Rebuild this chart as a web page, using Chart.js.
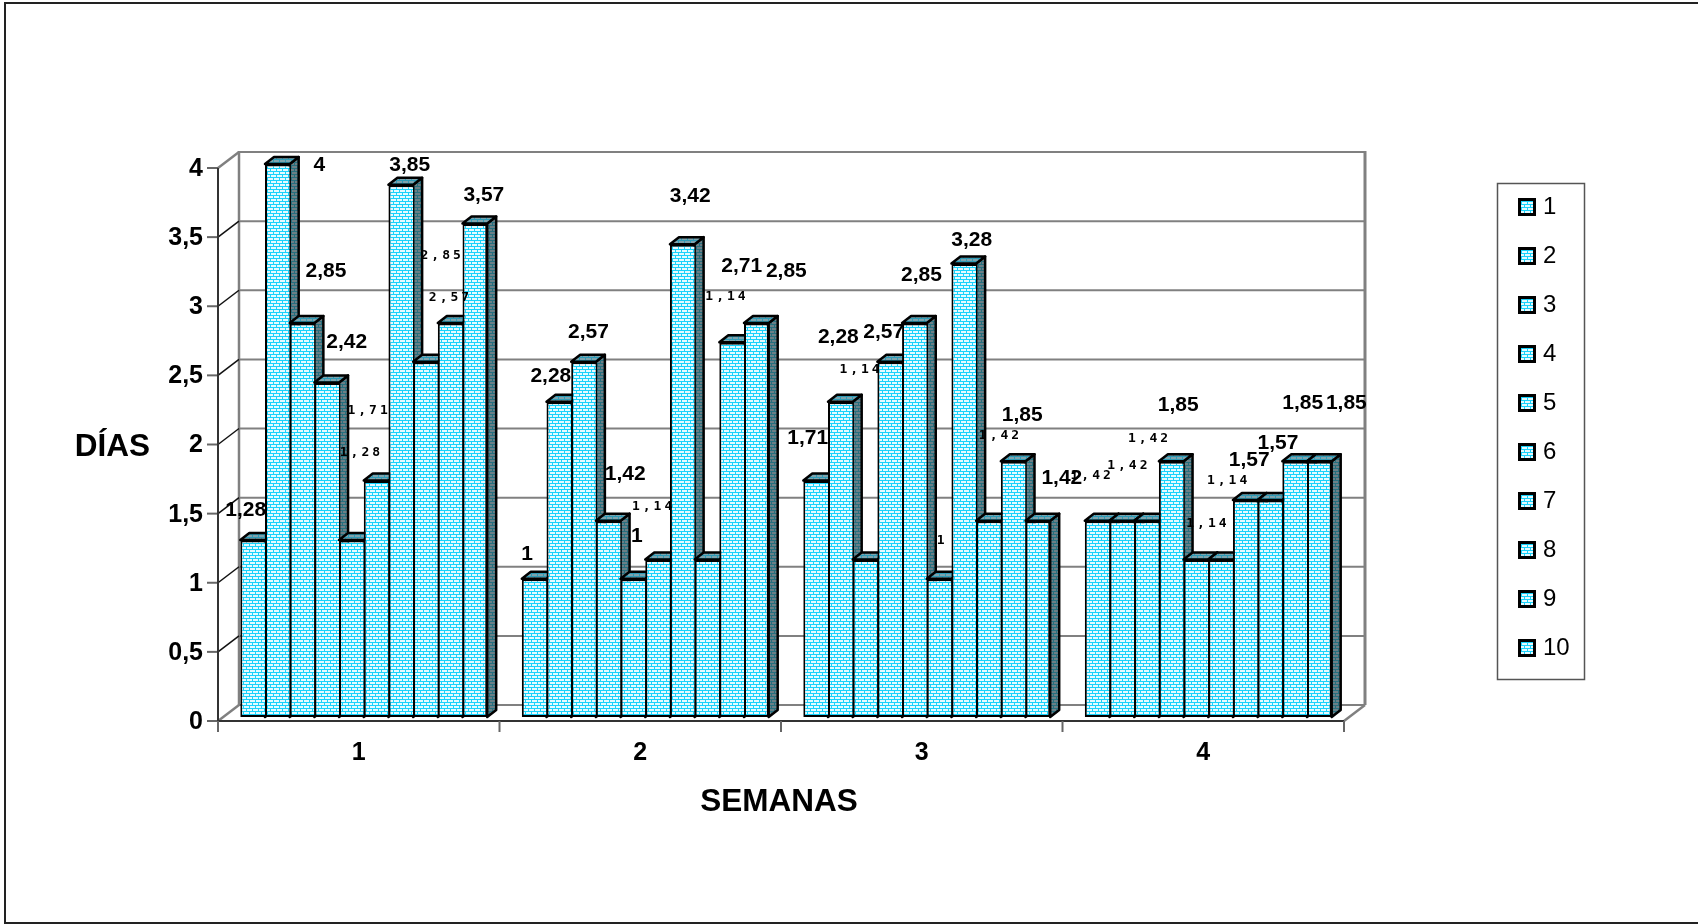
<!DOCTYPE html>
<html>
<head>
<meta charset="utf-8">
<title>Días por semana</title>
<style>
	html, body { margin: 0; padding: 0; background: #fff; }
	canvas { display: block; }
</style>
<script src="https://cdn.jsdelivr.net/npm/chart.js@4/dist/chart.umd.min.js"></script>
</head>
<body>
<canvas id="chart" width="1698" height="924"></canvas>
<script>

var categories = ["1", "2", "3", "4"];
var seriesNames = ["1", "2", "3", "4", "5", "6", "7", "8", "9", "10"];
var yTicks = [0, 0.5, 1, 1.5, 2, 2.5, 3, 3.5, 4];

var serie1 = [1.28, 1, 1.71, 1.42];
var serie2 = [4, 2.28, 2.28, 1.42];
var serie3 = [2.85, 2.57, 1.14, 1.42];
var serie4 = [2.42, 1.42, 2.57, 1.85];
var serie5 = [1.28, 1, 2.85, 1.14];
var serie6 = [1.71, 1.14, 1, 1.14];
var serie7 = [3.85, 3.42, 3.28, 1.57];
var serie8 = [2.57, 1.14, 1.42, 1.57];
var serie9 = [2.85, 2.71, 1.85, 1.85];
var serie10 = [3.57, 2.85, 1.42, 1.85];
var seriesValues = [serie1, serie2, serie3, serie4, serie5, serie6, serie7, serie8, serie9, serie10];

// where each value label sits, relative to the top of its bar: [dx, dy], by week then series
var labelNudges = [
	[[-7, -30], [42, 1], [24, -52], [20, -40], [10, -87], [-7, -70], [9, -20], [25, -64], [-8, -67], [9, -28]],
	[[-7, -25], [-8, -26], [5, -29], [17, -46], [4, -43], [-4, -53], [8, -48], [20, -263], [10, -76], [30, -52]],
	[[-8, -42], [-2, -65], [-4, -190], [-6, -29], [7, -48], [3, -38], [8, -23], [12, -85], [9, -46], [24, -42]],
	[[-5, -45], [7, -55], [3, -82], [7, -56], [12, -36], [8, -79], [4, -40], [8, -57], [8, -58], [27, -58]]
];
// these labels came out in the small typewriter font, the others in bold
var smallLabels = [
	[4, 5, 7, 8],
	[5, 7],
	[2, 5, 7],
	[0, 1, 2, 4, 5]
];

var DEPTH_X = 9;
var DEPTH_Y = 7;
var BACK_X = 16;
var BACK_Y = 12;
var AXIS_X = -5;
var AXIS_Y = 4;

function brick(line, ground) {
	var c = document.createElement("canvas");
	c.width = 6;
	c.height = 6;
	var g = c.getContext("2d");
	g.fillStyle = ground;
	g.fillRect(0, 0, 6, 6);
	g.fillStyle = line;
	g.fillRect(0, 0, 6, 1);
	g.fillRect(0, 3, 6, 1);
	g.fillRect(0, 0, 1, 3);
	g.fillRect(3, 3, 1, 3);
	return g.createPattern(c, "repeat");
}

var frontFill = brick("#19d2fb", "#e4faff");
var sideFill = brick("#26707f", "#6b7f86");
var topFill = brick("#2f9bb6", "#7ea3ad");

function legendSwatch() {
	var c = document.createElement("canvas");
	c.width = 18;
	c.height = 18;
	var g = c.getContext("2d");
	g.fillStyle = "#000";
	g.fillRect(0, 0, 18, 18);
	g.fillStyle = frontFill;
	g.fillRect(3, 3, 12, 12);
	return c;
}

function line(ctx, x1, y1, x2, y2) {
	ctx.beginPath();
	ctx.moveTo(x1, y1);
	ctx.lineTo(x2, y2);
	ctx.stroke();
}

function poly(ctx, points, fill) {
	ctx.beginPath();
	ctx.moveTo(points[0][0], points[0][1]);
	for (var i = 1; i < points.length; i++) {
		ctx.lineTo(points[i][0], points[i][1]);
	}
	ctx.closePath();
	ctx.fillStyle = fill;
	ctx.fill();
	ctx.stroke();
}

function formatValue(v) {
	return String(v).replace(".", ",");
}

function drawWalls(chart) {
	var ctx = chart.ctx;
	var x = chart.scales.x;
	var y = chart.scales.y;
	var backL = x.left + BACK_X;
	var backR = x.right + BACK_X;
	var axisL = x.left + AXIS_X;
	var axisR = x.right + AXIS_X;
	ctx.save();
	ctx.lineCap = "butt";
	// back wall grid
	ctx.strokeStyle = "#808080";
	ctx.lineWidth = 2;
	yTicks.forEach(function(v) {
		var py = y.getPixelForValue(v);
		line(ctx, backL, py - BACK_Y, backR, py - BACK_Y);
	});
	ctx.lineWidth = 3;
	var top = y.getPixelForValue(4) - BACK_Y;
	var bottom = y.getPixelForValue(0) - BACK_Y;
	line(ctx, backR, top - 1, backR, bottom);
	ctx.lineWidth = 2.5;
	line(ctx, backL, top - 1, backL, bottom);
	// floor edge and the corners of the side wall
	line(ctx, axisR, bottom + BACK_Y + AXIS_Y, backR, bottom);
	yTicks.forEach(function(v) {
		var py = y.getPixelForValue(v) + AXIS_Y;
		var outer = v === 0 || v === 4;
		ctx.strokeStyle = outer ? "#808080" : "#111";
		ctx.lineWidth = outer ? 2.5 : 1.5;
		line(ctx, axisL, py, backL, py - BACK_Y - AXIS_Y);
		ctx.strokeStyle = "#666";
		ctx.lineWidth = 2;
		line(ctx, axisL - 11, py, axisL, py);
	});
	// axis lines and week ticks
	ctx.strokeStyle = "#333";
	ctx.lineWidth = 2;
	line(ctx, axisL, y.getPixelForValue(4) + AXIS_Y, axisL, y.getPixelForValue(0) + AXIS_Y);
	line(ctx, axisL, y.getPixelForValue(0) + AXIS_Y, axisR, y.getPixelForValue(0) + AXIS_Y);
	ctx.strokeStyle = "#666";
	for (var i = 0; i <= categories.length; i++) {
		var px = axisL + i * (x.right - x.left) / categories.length;
		line(ctx, px, y.getPixelForValue(0) + AXIS_Y, px, y.getPixelForValue(0) + AXIS_Y + 11);
	}
	ctx.restore();
}

// top and side faces go down first, the library then paints the front on them
function drawFaces(chart, meta) {
	var ctx = chart.ctx;
	ctx.save();
	ctx.strokeStyle = "#000";
	ctx.lineWidth = 2.5;
	ctx.lineJoin = "round";
	meta.data.forEach(function(bar) {
		var p = bar.getProps(["x", "y", "base", "width"], true);
		var l = p.x - p.width / 2;
		var r = p.x + p.width / 2;
		poly(ctx, [[r, p.y], [r + DEPTH_X, p.y - DEPTH_Y], [r + DEPTH_X, p.base - DEPTH_Y], [r, p.base]], sideFill);
		poly(ctx, [[l, p.y], [l + DEPTH_X, p.y - DEPTH_Y], [r + DEPTH_X, p.y - DEPTH_Y], [r, p.y]], topFill);
	});
	ctx.restore();
}

var sheetPlugin = {
	id: "sheet",
	afterLayout: function(chart) {
		var legend = chart.legend;
		legend.left = 1498;
		legend.right = 1585;
		legend.top = 170;
		legend.bottom = 924;
	},
	beforeDraw: function(chart) {
		var ctx = chart.ctx;
		ctx.save();
		ctx.fillStyle = "#fff";
		ctx.fillRect(0, 0, chart.width, chart.height);
		// page frame, open on the right
		ctx.strokeStyle = "#222";
		ctx.lineWidth = 2;
		line(ctx, 5, 3, 1698, 3);
		line(ctx, 5, 2, 5, 924);
		line(ctx, 5, 923, 1698, 923);
		// legend frame
		ctx.strokeStyle = "#555";
		ctx.lineWidth = 1.5;
		ctx.strokeRect(1497.5, 183.5, 87, 496);
		ctx.restore();
	},
	beforeDatasetsDraw: function(chart) {
		drawWalls(chart);
		// left to right, so each bar covers the side of the one before it
		chart.data.datasets.forEach(function(ds, i) {
			var meta = chart.getDatasetMeta(i);
			drawFaces(chart, meta);
			meta.controller.draw();
		});
	},
	beforeDatasetDraw: function() {
		return false; // already painted above
	},
	afterDatasetsDraw: function(chart) {
		var ctx = chart.ctx;
		ctx.save();
		ctx.fillStyle = "#000";
		ctx.textAlign = "center";
		ctx.textBaseline = "middle";
		chart.data.datasets.forEach(function(ds, s) {
			chart.getDatasetMeta(s).data.forEach(function(bar, w) {
				var p = bar.getProps(["x", "y"], true);
				var nudge = labelNudges[w][s];
				if (smallLabels[w].indexOf(s) >= 0) {
					ctx.font = "bold 13px 'DejaVu Sans Mono'";
					ctx.letterSpacing = "3px";
				} else {
					ctx.font = "bold 21px 'Liberation Sans'";
					ctx.letterSpacing = "0px";
				}
				ctx.fillText(formatValue(ds.data[w]), p.x + nudge[0], p.y + nudge[1]);
			});
		});
		// axis titles
		ctx.letterSpacing = "0px";
		ctx.font = "bold 31.5px 'Liberation Sans'";
		ctx.fillText("DÍAS", 112.5, 447);
		ctx.fillText("SEMANAS", 779, 802);
		ctx.restore();
	}
};

var datasets = seriesValues.map(function(values, i) {
	return {
		label: seriesNames[i],
		data: values,
		backgroundColor: frontFill,
		borderColor: "#000",
		borderWidth: { left: 2, top: 2.5, bottom: 2, right: i === seriesValues.length - 1 ? 2 : 0 },
		borderSkipped: false,
		inflateAmount: 0,
		categoryPercentage: 0.877,
		barPercentage: 1
	};
});

new Chart(document.getElementById("chart").getContext("2d"), {
	type: "bar",
	data: { labels: categories, datasets: datasets },
	plugins: [sheetPlugin],
	options: {
		responsive: false,
		animation: false,
		layout: { padding: { left: 0, top: 164, right: 349, bottom: 147 } },
		plugins: {
			tooltip: { enabled: false },
			title: { display: false },
			legend: {
				position: "chartArea",
				align: "start",
				labels: {
					color: "#000",
					font: { family: "'Liberation Sans'", size: 24 },
					usePointStyle: true,
					pointStyle: legendSwatch(),
					pointStyleWidth: 8,
					padding: 25
				}
			}
		},
		scales: {
			x: {
				afterFit: function(scale) { scale.height = 60; },
				grid: { display: false, drawTicks: false },
				border: { display: false },
				ticks: {
					color: "#000",
					font: { family: "'Liberation Sans'", size: 25, weight: "bold" },
					padding: 21,
					labelOffset: -5,
					maxRotation: 0
				}
			},
			y: {
				min: 0,
				max: 4,
				afterFit: function(scale) { scale.width = 223; },
				afterBuildTicks: function(scale) {
					scale.ticks = yTicks.map(function(v) { return { value: v }; });
				},
				grid: { display: false, drawTicks: false },
				border: { display: false },
				ticks: {
					color: "#000",
					font: { family: "'Liberation Sans'", size: 25, weight: "bold" },
					padding: 20,
					labelOffset: 5,
					callback: formatValue
				}
			}
		}
	}
});

</script>
</body>
</html>
